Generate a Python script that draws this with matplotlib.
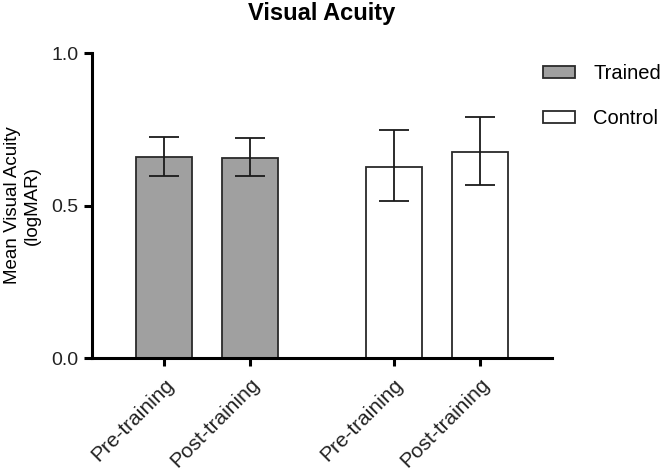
import numpy as np
import matplotlib.pyplot as plt
from matplotlib.patches import Patch

plt.rcParams['font.family'] = ['Liberation Sans', 'DejaVu Sans']

# data
labels = ['Pre-training', 'Post-training', 'Pre-training', 'Post-training']
groups = ['Trained', 'Trained', 'Control', 'Control']
means = [0.658, 0.657, 0.628, 0.676]
err_hi = [0.726, 0.722, 0.748, 0.792]
err_lo = [0.598, 0.596, 0.514, 0.568]
positions = [0, 1, 2.67, 3.67]

colors = {'Trained': '#a0a0a0', 'Control': 'white'}

fig = plt.figure(figsize=(6.66, 4.70), dpi=100)
ax = fig.add_axes([0.138, 0.238, 0.691, 0.649])

yerr = [np.array(means) - np.array(err_lo), np.array(err_hi) - np.array(means)]
ax.bar(positions, means, width=0.65, color=[colors[g] for g in groups],
       edgecolor='#2a2a2a', linewidth=1.3, zorder=2)
ax.errorbar(positions, means, yerr=yerr, fmt='none', ecolor='#1a1a1a',
            elinewidth=1.3, capsize=10.5, capthick=1.3, zorder=3)

ax.set_xlim(-0.837, 4.51)
ax.set_ylim(0, 1.0)
ax.set_yticks([0.0, 0.5, 1.0])
ax.set_yticklabels(['0.0', '0.5', '1.0'])
ax.set_xticks(positions)
ax.set_xticklabels(labels, rotation=45, ha='right', rotation_mode='anchor')

for s in ['top', 'right']:
    ax.spines[s].set_visible(False)
for s in ['left', 'bottom']:
    ax.spines[s].set_linewidth(2.2)
    ax.spines[s].set_color('black')
ax.tick_params(axis='both', width=2.2, length=6, colors='black', labelcolor='#222222')
ax.tick_params(axis='y', labelsize=14)
ax.tick_params(axis='x', labelsize=15, pad=6)

ax.set_ylabel('Mean Visual Acuity\n(logMAR)', fontsize=13.5, labelpad=8)
ax.set_title('Visual Acuity', fontsize=17, fontweight='bold', pad=23.5)

handles = [Patch(facecolor=colors[g], edgecolor='#2a2a2a', linewidth=1.3, label=g)
           for g in ['Trained', 'Control']]
fig.legend(handles=handles, loc='upper left', bbox_to_anchor=(0.788, 0.903),
           frameon=False, fontsize=14.5, handlelength=1.6, handleheight=0.55,
           handletextpad=0.9, labelspacing=1.3)

fig.savefig('out.png', dpi=100)
